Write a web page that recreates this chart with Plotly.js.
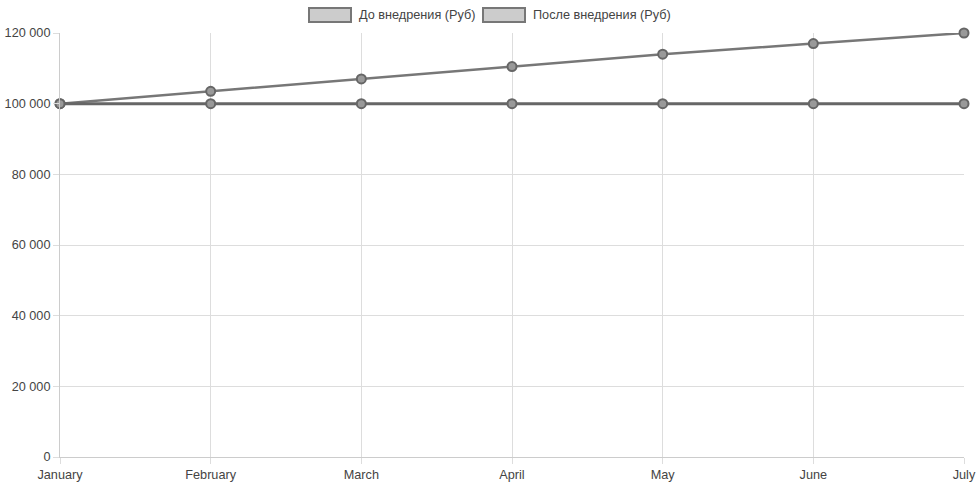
<!DOCTYPE html>
<html><head><meta charset="utf-8">
<script src="https://cdn.plot.ly/plotly-3.0.1.min.js"></script>
<style>html,body{margin:0;padding:0;background:#fff}#chart{width:980px;height:491px}</style>
</head><body><div id="chart"></div>
<script>
var months = ["January","February","March","April","May","June","July"];
var before = [100000,100000,100000,100000,100000,100000,100000];
var after = [100000,103500,107000,110500,114000,117000,120000];
var seriesNames = ["До внедрения (Руб)","После внедрения (Руб)"];
var yTicks = [0,20000,40000,60000,80000,100000,120000];

var font = {family:"Liberation Sans, Arial, sans-serif", size:12.7, color:"#444"};
var traces = [
  {x:months, y:after, name:seriesNames[1], mode:"lines+markers", showlegend:false, cliponaxis:false,
   line:{color:"#777", width:2.5}, marker:{size:9, color:"#999", line:{color:"#666", width:2}}},
  {x:months, y:before, name:seriesNames[0], mode:"lines+markers", showlegend:false, cliponaxis:false,
   line:{color:"#666", width:3}, marker:{size:9, color:"#999", line:{color:"#666", width:2}}}
];
var layout = {
  width:980, height:491,
  margin:{l:60, r:16, t:33, b:34},
  paper_bgcolor:"#fff", plot_bgcolor:"#fff",
  separators:". ",
  font:font,
  xaxis:{type:"category", range:[0,6], showgrid:true, gridcolor:"#ddd", gridwidth:1,
         ticks:"outside", ticklen:6, tickcolor:"#ddd", showline:true, linecolor:"#ccc",
         zeroline:false, tickfont:font, fixedrange:true},
  yaxis:{range:[0,120000], tickvals:yTicks, tickformat:",d", showgrid:true, gridcolor:"#ddd",
         ticks:"outside", ticklen:6, tickcolor:"#ddd", showline:true, linecolor:"#ccc",
         zeroline:false, tickfont:font, fixedrange:true},
  shapes:[
    {type:"rect", xref:"paper", yref:"paper", x0:(309-60)/904, x1:(351-60)/904,
     y0:1+(33-22)/424, y1:1+(33-8)/424, fillcolor:"#ccc", line:{color:"#777", width:2}},
    {type:"rect", xref:"paper", yref:"paper", x0:(483-60)/904, x1:(525-60)/904,
     y0:1+(33-22)/424, y1:1+(33-8)/424, fillcolor:"#ccc", line:{color:"#777", width:2}}
  ],
  annotations:[
    {xref:"paper", yref:"paper", x:(357-60)/904, y:1+(33-15)/424, xanchor:"left", yanchor:"middle",
     text:seriesNames[0], showarrow:false, font:font},
    {xref:"paper", yref:"paper", x:(531-60)/904, y:1+(33-15)/424, xanchor:"left", yanchor:"middle",
     text:seriesNames[1], showarrow:false, font:font}
  ]
};
Plotly.newPlot("chart", traces, layout, {displayModeBar:false, staticPlot:true});
</script></body></html>
